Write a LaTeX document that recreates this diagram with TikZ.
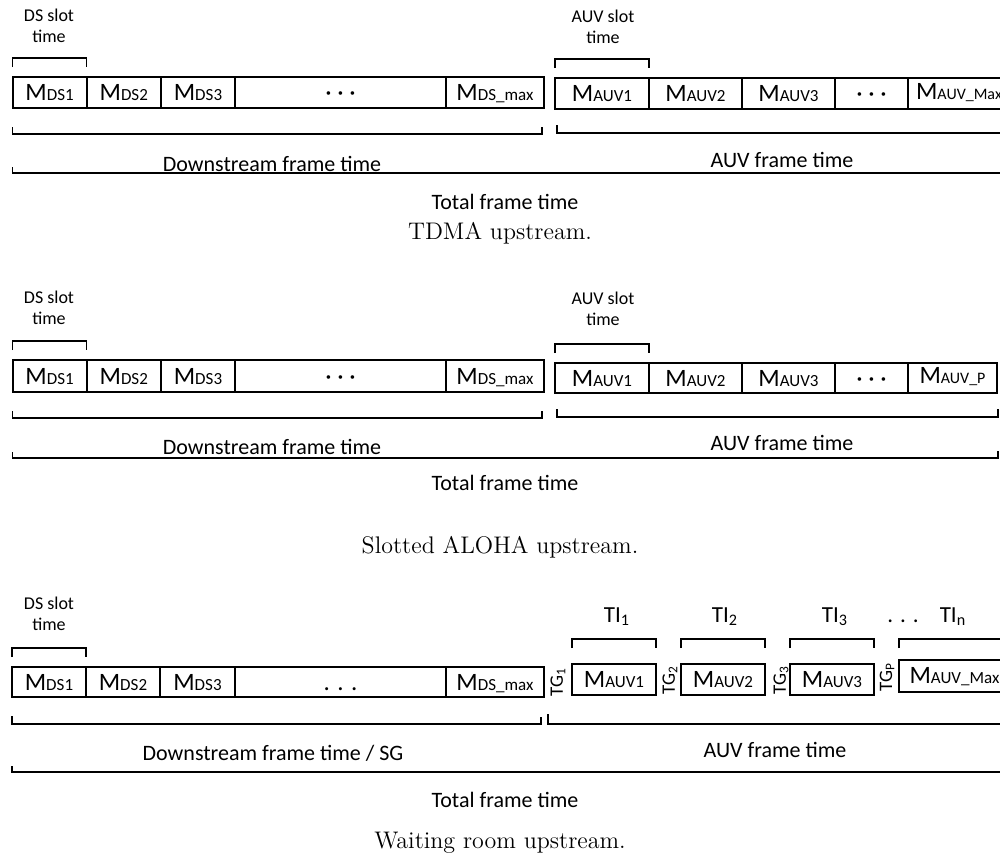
\documentclass[tikz,border=0pt]{standalone}
\usepackage{fontspec}
\newfontfamily\carlito{Carlito}
\usetikzlibrary{positioning, calc}
\newcommand{\msub}[2][8.5]{M{\fontsize{#1}{10}\selectfont #2}}

\begin{document}
\begin{tikzpicture}[
    x=0.5pt, y=-0.5pt,
    every node/.style={font=\carlito\fontsize{11}{13}\selectfont},
    cell/.style={
        rectangle,
        draw,
        line width=1pt,
        inner sep=0pt,
        outer sep=0pt,
        anchor=north west,
        text depth=0pt,
        font=\carlito\fontsize{12.5}{14}\selectfont
    },
    bracket/.style={line width=0.65pt},
    slotlabel/.style={
        font=\carlito\fontsize{9}{10.5}\selectfont,
        align=center,
        inner sep=0pt
    },
    guard/.style={
        rotate=90,
        font=\carlito\fontsize{9.5}{11}\selectfont,
        inner sep=0pt
    },
    interval/.style={anchor=base, font=\carlito\fontsize{11.5}{13}\selectfont},
    captiontext/.style={font=\rmfamily\fontsize{12}{14}\selectfont}
]

\useasboundingbox (0,0) rectangle (1000,858);
\clip (0,0) rectangle (1000,858);

% ==================== TDMA UPSTREAM ====================

\foreach \nm/\xa/\xb/\txt in {tdsa/12.6/86.6/{\msub{DS1}}, tdsb/86.6/161/{\msub{DS2}}, tdsc/161/235/{\msub{DS3}},
        tdsd/235/446/{\vphantom{M}· · ·}, tdsm/446/544/{\msub{DS\_max}}}
    \node[cell, minimum width={(\xb-\xa)*0.5pt}, minimum height=15.5pt] (\nm) at (\xa,77) {\txt};
\foreach \nm/\xa/\xb/\txt in {taa/555/649/{\msub{AUV1}}, tab/649/742/{\msub{AUV2}}, tac/742/835/{\msub{AUV3}},
        tad/835/908/{\vphantom{M}· · ·}, tam/908/1010/{\raisebox{2.3pt}{\msub[8]{AUV\_Max}}}}
    \node[cell, minimum width={(\xb-\xa)*0.5pt}, minimum height=15.5pt] (\nm) at (\xa,78) {\txt};

\node (tdsslot) [slotlabel] at (49,26) {DS slot\\time};
\node (tauvslot) [slotlabel] at (603,27) {AUV slot\\time};

\draw [bracket] ([yshift=5pt]tdsa.north west) -- ++(0,4.5pt) -| ([yshift=5pt]tdsa.north east);
\draw [bracket] ([yshift=5pt]taa.north west) -- ++(0,4.5pt) -| ([yshift=5pt]taa.north east);
\draw [bracket] ([yshift=-9.5pt]tdsa.south west) |- ([xshift=-1pt,yshift=-13pt]tdsm.south east) -- ++(0,3.5pt);
\draw [bracket] ([xshift=1pt,yshift=-8pt]taa.south west) |- ([yshift=-12pt]tam.south east);

\node (tdsframe) at (272,164) {Downstream frame time};
\node (tauvframe) at (782,160) {AUV frame time};
\draw [bracket] (12.6,167) |- (1010,173);
\node (ttotal) at (505,202) {Total frame time};
\node (tcap) [captiontext] at (500,233) {TDMA upstream.};

% ==================== SLOTTED ALOHA UPSTREAM ====================

\foreach \nm/\xa/\xb/\txt in {sdsa/12.6/86.6/{\msub{DS1}}, sdsb/86.6/161/{\msub{DS2}}, sdsc/161/235/{\msub{DS3}},
        sdsd/235/446/{\vphantom{M}· · ·}, sdsm/446/544/{\msub{DS\_max}}}
    \node[cell, minimum width={(\xb-\xa)*0.5pt}, minimum height=16pt] (\nm) at (\xa,360) {\txt};
\foreach \nm/\xa/\xb/\txt in {saa/555/649/{\msub{AUV1}}, sab/649/742/{\msub{AUV2}}, sac/742/835/{\msub{AUV3}},
        sad/835/908/{\vphantom{M}· · ·}, sam/908/997/{\raisebox{2.3pt}{\msub[8]{AUV\_P}}}}
    \node[cell, minimum width={(\xb-\xa)*0.5pt}, minimum height=15pt] (\nm) at (\xa,363) {\txt};

\node (sdsslot) [slotlabel] at (49,308) {DS slot\\time};
\node (sauvslot) [slotlabel] at (603,309) {AUV slot\\time};

\draw [bracket] ([yshift=5pt]sdsa.north west) -- ++(0,4.5pt) -| ([yshift=5pt]sdsa.north east);
\draw [bracket] ([yshift=5pt]saa.north west) -- ++(0,4.5pt) -| ([yshift=5pt]saa.north east);
\draw [bracket] ([yshift=-9.5pt]sdsa.south west) |- ([xshift=-1pt,yshift=-13pt]sdsm.south east) -- ++(0,3.5pt);
\draw [bracket] ([xshift=1pt,yshift=-8pt]saa.south west) |- ([xshift=0.5pt,yshift=-12pt]sam.south east) -- ++(0,4pt);

\node (sdsframe) at (272,447) {Downstream frame time};
\node (sauvframe) at (782,443) {AUV frame time};
\draw [bracket] (12.6,452) |- (998,458) -- (998,451);
\node (stotal) at (505,483) {Total frame time};
\node (scap) [captiontext] at (500,547) {Slotted ALOHA upstream.};

% ==================== WAITING ROOM UPSTREAM ====================

\foreach \nm/\xa/\xb/\txt in {wdsa/12/86/{\msub{DS1}}, wdsb/86/160/{\msub{DS2}}, wdsc/160/235/{\msub{DS3}},
        wdsd/235/446/{\vphantom{M}. . .}, wdsm/446/544/{\msub{DS\_max}}}
    \node[cell, minimum width={(\xb-\xa)*0.5pt}, minimum height=15pt] (\nm) at (\xa,667) {\txt};
\foreach \nm/\xa/\xb/\txt in {waa/572/656/{\msub{AUV1}}, wab/681/765/{\msub{AUV2}}, wac/790/874/{\msub{AUV3}}}
    \node[cell, minimum width={(\xb-\xa)*0.5pt}, minimum height=15.5pt] (\nm) at (\xa,664) {\txt};
\node[cell, minimum width=55.5pt, minimum height=16pt] (wam) at (899,660) {\raisebox{1pt}{\msub{AUV\_Max}}};

\node (wg1) [guard] at (558,682) {TG\textsubscript{1}};
\node (wg2) [guard] at (670,680) {TG\textsubscript{2}};
\node (wg3) [guard] at (781,680) {TG\textsubscript{3}};
\node (wgp) [guard] at (887,677) {TG\textsubscript{P}};

\node (wdsslot) [slotlabel] at (49,614) {DS slot\\time};
\node (wi1) [interval] at (617,622) {TI\textsubscript{1}};
\node (wi2) [interval] at (725,622) {TI\textsubscript{2}};
\node (wi3) [interval] at (835,622) {TI\textsubscript{3}};
\node (widots) [interval] at (903,622) {. . .};
\node (win) [interval] at (953,622) {TI\textsubscript{n}};

\draw [bracket] ([yshift=5pt]wdsa.north west) -- ++(0,4.5pt) -| ([yshift=5pt]wdsa.north east);
\foreach \nm in {waa, wab, wac}
    \draw [bracket] ([yshift=8pt]\nm.north west) -- ++(0,4.5pt) -| ([yshift=8pt]\nm.north east);
\draw [bracket] ([yshift=6pt]wam.north west) -- ++(0,4.5pt) -| ([yshift=6pt]wam.north east);

\draw [bracket] ([yshift=-9.5pt]wdsa.south west) |- ([xshift=-1.5pt,yshift=-13.5pt]wdsm.south east) -- ++(0,3.5pt);
\draw [bracket] (548,714) |- (1010,724);

\node (wdsframe) at (273,753) {Downstream frame time / SG};
\node (wauvframe) at (775,750) {AUV frame time};
\draw [bracket] (12,766) |- (1010,772);
\node (wtotal) at (505,800) {Total frame time};
\node (wcap) [captiontext] at (500,843) {Waiting room upstream.};

\end{tikzpicture}
\end{document}
